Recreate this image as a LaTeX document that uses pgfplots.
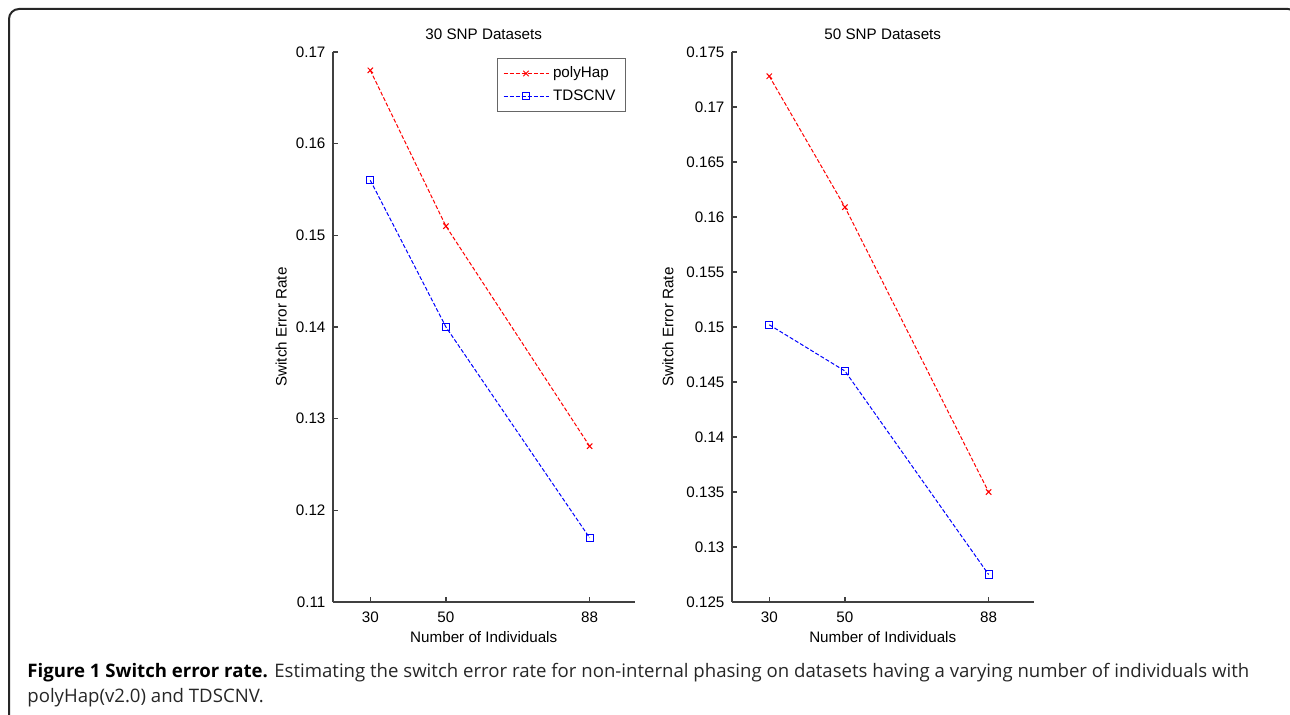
\documentclass[border=0pt]{standalone}
\usepackage{fontspec}
\setmainfont{Liberation Sans}
\newfontfamily\capfont{Open Sans}
\usepackage{pgfplots}
\pgfplotsset{compat=1.18}

\pgfplotsset{
  serr/.style={
    scale only axis, width=151.25pt, height=275pt,
    axis x line*=bottom, axis y line*=left,
    tick align=inside,
    xmin=20, xmax=100, xtick={30,50,88},
    axis line style={line width=1pt, black!75},
    major tick style={line width=0.6pt, black!75},
    major tick length=2.5pt,
    tick label style={font=\fontsize{7.6}{9}\selectfont},
    xticklabel style={yshift=-1.5pt},
    label style={font=\fontsize{7.6}{9}\selectfont},
    title style={font=\fontsize{7.6}{9}\selectfont, at={(axis description cs:0.5,1)}, anchor=center, yshift=3pt},
    xlabel={Number of Individuals},
    ylabel={Switch Error Rate},
    xlabel style={at={(axis description cs:0.5,-0.0636)}, anchor=center},
    scaled y ticks=false,
    /pgf/number format/assume math mode=true,
    yticklabel style={/pgf/number format/fixed, /pgf/number format/precision=3},
    clip=false,
  },
  ph/.style={red, line width=0.5pt, dash pattern=on 2pt off 1pt, mark=x, mark size=1.9pt, mark options={solid}},
  td/.style={blue, line width=0.5pt, dash pattern=on 2pt off 1pt, mark=square, mark size=1.8pt, mark options={solid}},
}

\begin{document}
\begin{tikzpicture}
\useasboundingbox (0pt,0pt) rectangle (645pt,357pt);
\draw[line width=1pt, black!85, rounded corners=5pt] (4.5pt,-10pt) -- (4.5pt,352.5pt) -- (649pt,352.5pt) -- (649pt,-10pt);

% 30 SNP datasets
\begin{axis}[serr, at={(166.25pt,56pt)}, anchor=south west,
    title={30 SNP Datasets},
    ymin=0.11, ymax=0.17, ytick={0.11,0.12,0.13,0.14,0.15,0.16,0.17},
    ylabel style={at={(axis description cs:-0.17,0.5)}, anchor=center},
    legend style={at={(1,1)}, anchor=north east, xshift=-4.5pt, yshift=-3pt,
      draw=black!60, line width=0.5pt, font=\fontsize{7.6}{9}\selectfont,
      row sep=0.5pt, inner xsep=3pt},
    legend cell align=left,
    legend image code/.code={\draw[mark repeat=2,mark phase=2] plot coordinates {(0pt,0pt) (11.25pt,0pt) (22.5pt,0pt)};},
  ]
  \addplot[ph] coordinates {(30,0.168) (50,0.151) (88,0.127)};
  \addlegendentry{polyHap}
  \addplot[td] coordinates {(30,0.156) (50,0.140) (88,0.117)};
  \addlegendentry{TDSCNV}
\end{axis}

% 50 SNP datasets
\begin{axis}[serr, at={(365.75pt,56pt)}, anchor=south west,
    title={50 SNP Datasets},
    ymin=0.125, ymax=0.175,
    ytick={0.125,0.13,0.135,0.14,0.145,0.15,0.155,0.16,0.165,0.17,0.175},
    ylabel style={at={(axis description cs:-0.21,0.5)}, anchor=center},
  ]
  \addplot[ph] coordinates {(30,0.1728) (50,0.1609) (88,0.135)};
  \addplot[td] coordinates {(30,0.1502) (50,0.1460) (88,0.1275)};
\end{axis}

\node[anchor=base west, inner sep=0, font=\capfont\fontsize{9.3}{11}\selectfont, text=black!85]
  at (13.5pt,18.5pt) {\textbf{\color{black}Figure 1 Switch error rate.} Estimating the switch error rate for non-internal phasing on datasets having a varying number of individuals with};
\node[anchor=base west, inner sep=0, font=\capfont\fontsize{9.3}{11}\selectfont, text=black!85]
  at (13.5pt,6pt) {polyHap(v2.0) and TDSCNV.};
\end{tikzpicture}
\end{document}
